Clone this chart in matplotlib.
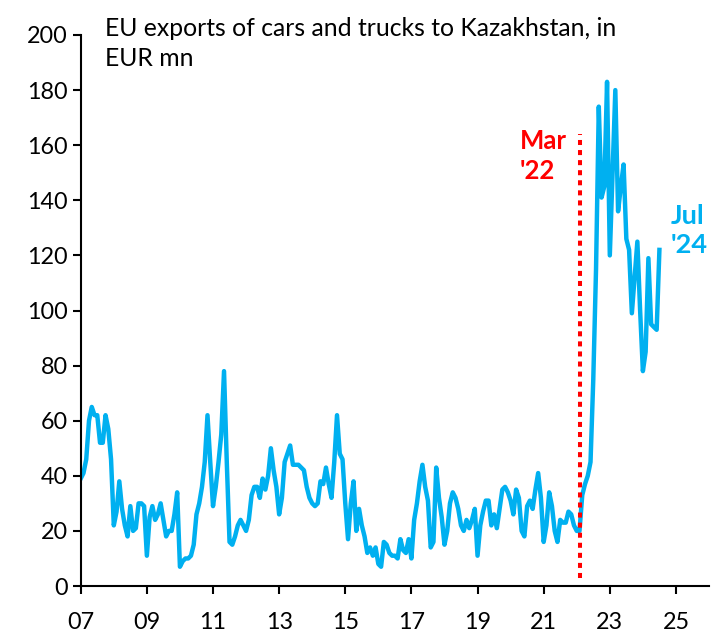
import matplotlib
matplotlib.use("Agg")
import matplotlib.pyplot as plt
import numpy as np

# monthly EU exports of cars and trucks to Kazakhstan, EUR mn, Jan 2007 - Jul 2024
values = [
    39, 41, 46, 60, 65, 62, 62, 52, 52, 62, 57, 46,   # 2007
    22, 27, 38, 28, 22, 18, 29, 20, 21, 30, 30, 29,   # 2008
    11, 25, 29, 24, 26, 30, 24, 18, 20, 20, 26, 34,   # 2009
    7, 9, 10, 10, 11, 15, 26, 30, 36, 45, 62, 45,     # 2010
    29, 36, 45, 55, 78, 45, 16, 15, 18, 22, 24, 22,   # 2011
    20, 24, 33, 36, 36, 32, 39, 35, 40, 50, 42, 36,   # 2012
    26, 32, 45, 48, 51, 44, 44, 44, 43, 42, 36, 32,   # 2013
    30, 29, 30, 38, 37, 43, 37, 32, 45, 62, 48, 46,   # 2014
    30, 17, 30, 38, 20, 28, 22, 18, 12, 14, 11, 14,   # 2015
    8, 7, 16, 15, 12, 11, 11, 10, 17, 13, 12, 17,     # 2016
    10, 24, 30, 38, 44, 36, 31, 14, 16, 43, 32, 25,   # 2017
    15, 20, 30, 34, 32, 28, 22, 20, 24, 21, 24, 28,   # 2018
    11, 22, 27, 31, 31, 22, 26, 21, 28, 35, 36, 34,   # 2019
    31, 26, 35, 32, 20, 18, 29, 31, 28, 35, 41, 32,   # 2020
    16, 22, 34, 29, 20, 16, 24, 23, 23, 27, 26, 22,   # 2021
    20, 20, 33, 37, 40, 45, 75, 115, 174, 141, 145, 183,  # 2022
    120, 150, 180, 136, 145, 153, 126, 122, 99, 112, 125, 100,  # 2023
    78, 85, 119, 95, 94, 93, 122,                     # 2024
]
dates = 2007 + np.arange(len(values)) / 12

xticks = list(range(2007, 2026, 2))
xlabels = ["%02d" % (y % 100) for y in xticks]
yticks = list(range(0, 201, 20))

line_col = "#00B0F0"
plt.rcParams["font.family"] = ["Lato", "DejaVu Sans"]

fig = plt.figure(figsize=(7.26, 6.42), dpi=100)
ax = fig.add_axes([0.1112, 0.0872, 0.8654, 0.8583])

ax.plot(dates, values, color=line_col, lw=3.2, solid_joinstyle="round")
ax.vlines(2022.09, 3, 164, color="#FF0000", lw=2.9, linestyles=(0, (1.25, 1.25)))

ax.set_xlim(2007, 2026)
ax.set_ylim(0, 200)
ax.set_xticks(xticks)
ax.set_xticklabels(xlabels)
ax.set_yticks(yticks)

for s in ["top", "right"]:
    ax.spines[s].set_visible(False)
for s in ["left", "bottom"]:
    ax.spines[s].set_linewidth(1.5)
ax.tick_params(axis="both", labelsize=16.8, width=1.5, length=6, direction="out")
ax.tick_params(axis="x", pad=13)

fig.text(0.1446, 0.974, "EU exports of cars and trucks to Kazakhstan, in\nEUR mn",
         fontsize=17.8, va="top", ha="left", linespacing=1.4)
fig.text(0.716, 0.799, "Mar\n'22", color="#FF0000", fontsize=18.5, fontweight="bold",
         va="top", ha="left", linespacing=1.3)
fig.text(0.924, 0.683, "Jul\n'24", color=line_col, fontsize=19.5, fontweight="bold",
         va="top", ha="left", linespacing=1.25)

fig.savefig("out.png", dpi=100)
